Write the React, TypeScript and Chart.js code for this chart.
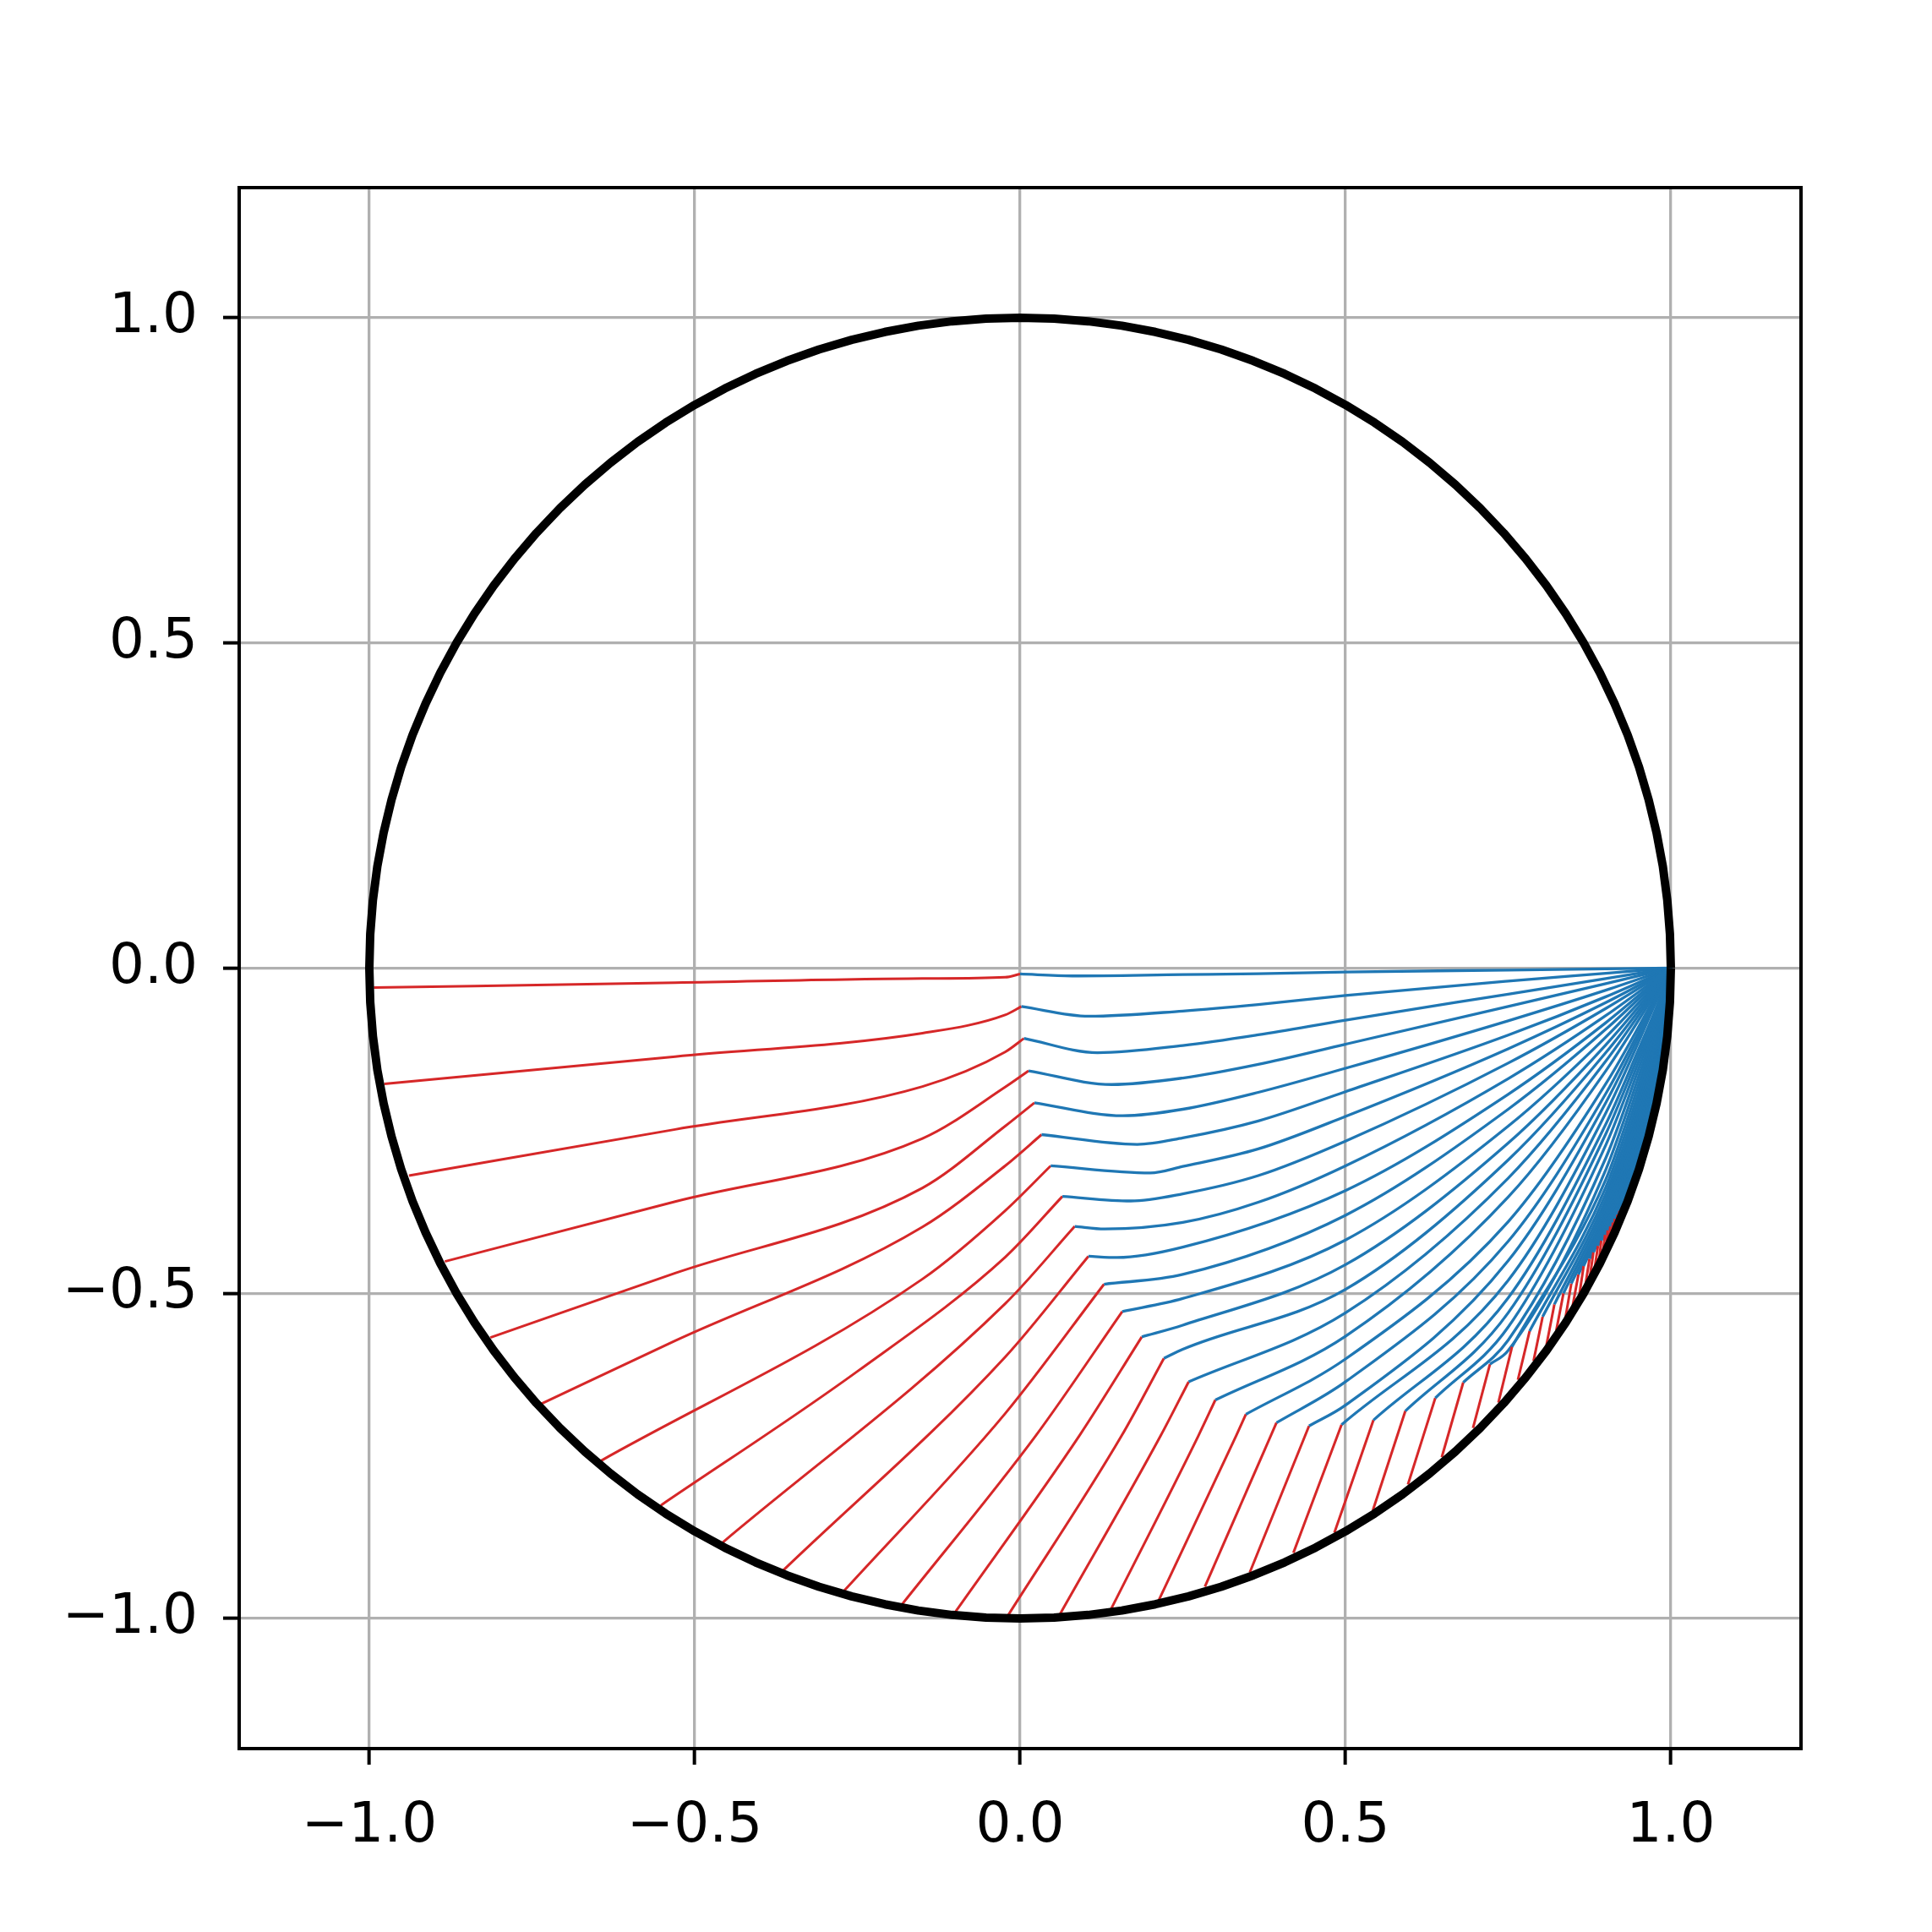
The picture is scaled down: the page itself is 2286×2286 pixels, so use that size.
import React, { useEffect, useRef } from 'react';
import { Chart, registerables } from 'chart.js';

Chart.register(...registerables);

// Axis ticks
const tickValues = [-1, -0.5, 0, 0.5, 1];
const tickLabels = ['\u22121.0', '\u22120.5', '0.0', '0.5', '1.0'];

// Unit circle outline (every 3 degrees)
const circleX = [
  1, 0.9986, 0.9945, 0.9877, 0.9781, 0.9659, 0.9511, 0.9336, 0.9135, 0.891, 0.866, 0.8387, 0.809, 0.7771, 0.7431, 0.7071, 0.6691, 0.6293, 0.5878, 0.5446, 0.5, 0.454, 0.4067, 0.3584, 0.309, 0.2588, 0.2079, 0.1564, 0.1045, 0.0523, 0,
  -0.0523, -0.1045, -0.1564, -0.2079, -0.2588, -0.309, -0.3584, -0.4067, -0.454, -0.5, -0.5446, -0.5878, -0.6293, -0.6691, -0.7071, -0.7431, -0.7771, -0.809, -0.8387, -0.866, -0.891, -0.9135, -0.9336, -0.9511, -0.9659, -0.9781, -0.9877, -0.9945, -0.9986, -1,
  -0.9986, -0.9945, -0.9877, -0.9781, -0.9659, -0.9511, -0.9336, -0.9135, -0.891, -0.866, -0.8387, -0.809, -0.7771, -0.7431, -0.7071, -0.6691, -0.6293, -0.5878, -0.5446, -0.5, -0.454, -0.4067, -0.3584, -0.309, -0.2588, -0.2079, -0.1564, -0.1045, -0.0523, 0,
  0.0523, 0.1045, 0.1564, 0.2079, 0.2588, 0.309, 0.3584, 0.4067, 0.454, 0.5, 0.5446, 0.5878, 0.6293, 0.6691, 0.7071, 0.7431, 0.7771, 0.809, 0.8387, 0.866, 0.891, 0.9135, 0.9336, 0.9511, 0.9659, 0.9781, 0.9877, 0.9945, 0.9986, 1,
];
const circleY = [
  0, 0.0523, 0.1045, 0.1564, 0.2079, 0.2588, 0.309, 0.3584, 0.4067, 0.454, 0.5, 0.5446, 0.5878, 0.6293, 0.6691, 0.7071, 0.7431, 0.7771, 0.809, 0.8387, 0.866, 0.891, 0.9135, 0.9336, 0.9511, 0.9659, 0.9781, 0.9877, 0.9945, 0.9986, 1,
  0.9986, 0.9945, 0.9877, 0.9781, 0.9659, 0.9511, 0.9336, 0.9135, 0.891, 0.866, 0.8387, 0.809, 0.7771, 0.7431, 0.7071, 0.6691, 0.6293, 0.5878, 0.5446, 0.5, 0.454, 0.4067, 0.3584, 0.309, 0.2588, 0.2079, 0.1564, 0.1045, 0.0523, 0,
  -0.0523, -0.1045, -0.1564, -0.2079, -0.2588, -0.309, -0.3584, -0.4067, -0.454, -0.5, -0.5446, -0.5878, -0.6293, -0.6691, -0.7071, -0.7431, -0.7771, -0.809, -0.8387, -0.866, -0.891, -0.9135, -0.9336, -0.9511, -0.9659, -0.9781, -0.9877, -0.9945, -0.9986, -1,
  -0.9986, -0.9945, -0.9877, -0.9781, -0.9659, -0.9511, -0.9336, -0.9135, -0.891, -0.866, -0.8387, -0.809, -0.7771, -0.7431, -0.7071, -0.6691, -0.6293, -0.5878, -0.5446, -0.5, -0.454, -0.4067, -0.3584, -0.309, -0.2588, -0.2079, -0.1564, -0.1045, -0.0523, 0,
];

// Red paths: start on the circle
const startX = [-0.993, -0.977, -0.939, -0.884, -0.814, -0.736, -0.645, -0.552, -0.457, -0.364, -0.271, -0.182, -0.101, -0.019, 0.061, 0.139, 0.213, 0.284, 0.353, 0.42, 0.483, 0.542, 0.596, 0.648, 0.696, 0.735, 0.765, 0.789, 0.809, 0.824, 0.838, 0.849, 0.859, 0.868, 0.875, 0.882, 0.889, 0.894, 0.9, 0.904, 0.908, 0.912, 0.916, 0.919, 0.923, 0.926, 0.929, 0.932];
const startY = [-0.03, -0.178, -0.319, -0.451, -0.568, -0.67, -0.758, -0.826, -0.883, -0.926, -0.958, -0.979, -0.992, -0.996, -0.994, -0.987, -0.972, -0.951, -0.929, -0.899, -0.868, -0.834, -0.794, -0.752, -0.707, -0.668, -0.633, -0.604, -0.579, -0.557, -0.538, -0.52, -0.505, -0.492, -0.479, -0.468, -0.457, -0.447, -0.437, -0.427, -0.418, -0.41, -0.401, -0.393, -0.385, -0.377, -0.37, -0.363];

// Junction where the red path turns into the blue path
const junctionX = [0, 0.002, 0.006, 0.013, 0.022, 0.033, 0.047, 0.065, 0.084, 0.105, 0.129, 0.157, 0.187, 0.221, 0.259, 0.3, 0.347, 0.394, 0.444, 0.494, 0.543, 0.592, 0.638, 0.681, 0.722, 0.756, 0.783, 0.803, 0.821, 0.835, 0.847, 0.858, 0.866, 0.875, 0.881, 0.888, 0.893, 0.899, 0.903, 0.907, 0.911, 0.914, 0.918, 0.921, 0.925, 0.928, 0.93, 0.933];
const junctionY = [-0.009, -0.059, -0.108, -0.158, -0.207, -0.256, -0.304, -0.351, -0.397, -0.443, -0.486, -0.528, -0.567, -0.6, -0.636, -0.664, -0.686, -0.699, -0.704, -0.702, -0.695, -0.681, -0.661, -0.637, -0.609, -0.582, -0.558, -0.536, -0.517, -0.5, -0.485, -0.471, -0.458, -0.447, -0.437, -0.427, -0.419, -0.41, -0.403, -0.397, -0.391, -0.385, -0.379, -0.373, -0.367, -0.361, -0.356, -0.351];

// Extra points along red paths
const redFarX = -0.53;
const redFarY = [-0.0225, -0.136, -0.248, -0.359, -0.469, -0.573];
const redKneeX = [-0.15, -0.15, -0.15, -0.15, -0.15, -0.15, -0.15, -0.25];
const redKneeY = [-0.016, -0.1, -0.182, -0.262, -0.338, -0.398, -0.478, -0.62];
const redNearX = [-0.023, -0.023, -0.023, -0.023, -0.023, -0.023, -0.023, -0.023, -0.023, -0.023, -0.023, 0.024, 0.091, 0.156, 0.216, 0.274, 0.332];
const redNearY = [-0.014, -0.072, -0.129, -0.183, -0.243, -0.304, -0.373, -0.4445, -0.516, -0.598, -0.685, -0.719, -0.719, -0.719, -0.719, -0.719, -0.719];

// Blue paths: dip after the junction, then values at fixed x positions, ending at (1, 0)
const blueDipX = [0.08, 0.106, 0.119, 0.141, 0.158, 0.18, 0.2, 0.17, 0.13, 0.149];
const blueDipY = [-0.012, -0.074, -0.13, -0.179, -0.227, -0.271, -0.315, -0.358, -0.401, -0.445];
const blueSampleX = [0.25, 0.366, 0.5, 0.75, 0.9, 0.95, 0.98];
const blueAt25 = [-0.01, -0.066, -0.119, -0.169, -0.217, -0.261, -0.305, -0.347, -0.391, -0.429, -0.471, -0.508, -0.549, -0.586];
const blueAt37 = [-0.0087, -0.056, -0.1026, -0.148, -0.191, -0.235, -0.278, -0.319, -0.36];
const blueAt50 = [-0.006, -0.042, -0.08, -0.117, -0.154, -0.19, -0.228, -0.266, -0.304, -0.342, -0.38, -0.418, -0.456, -0.494, -0.53, -0.566, -0.601, -0.636, -0.672];
const blueAt75 = [-0.003, -0.02, -0.04, -0.059, -0.081, -0.103, -0.124, -0.146, -0.17, -0.194, -0.217, -0.243, -0.269, -0.295, -0.323, -0.352, -0.39, -0.42, -0.45, -0.48, -0.507, -0.53, -0.552, -0.572, -0.588];
const blueAt90 = [-0.0012, -0.008, -0.016, -0.024, -0.034, -0.044, -0.053, -0.062, -0.073, -0.084, -0.094, -0.106, -0.118, -0.13, -0.143, -0.158, -0.178, -0.193, -0.207, -0.223, -0.24, -0.255, -0.272, -0.292, -0.31, -0.325, -0.337, -0.347, -0.356, -0.364, -0.372, -0.379, -0.385, -0.391, -0.396, -0.401, -0.405];
const blueAt95 = [null, null, null, null, null, null, null, null, null, null, null, null, null, null, null, null, null, null, null, null, -0.126, -0.135, -0.145, -0.156, -0.168, -0.18, -0.192, -0.203, -0.214, -0.224, -0.233, -0.241, -0.249, -0.256, -0.263, -0.269, -0.275, -0.28, -0.285, -0.289, -0.293, -0.296, -0.299, -0.301, -0.303, -0.305, -0.306, -0.307];
const blueAt98 = [null, null, null, null, null, null, null, null, null, null, null, null, null, null, null, null, null, null, null, null, -0.055, -0.059, -0.064, -0.069, -0.074, -0.08, -0.086, -0.092, -0.098, -0.104, -0.11, -0.116, -0.122, -0.128, -0.134, -0.14, -0.145, -0.15, -0.155, -0.159, -0.163, -0.167, -0.17, -0.173, -0.176, -0.179, -0.181, -0.183];
const endX = 1;
const endY = 0;

const RED = '#d62728';
const BLUE = '#1f77b4';

type Pt = { x: number; y: number };

function redPath(k: number): Pt[] {
  const pts: Pt[] = [{ x: startX[k], y: startY[k] }];
  if (redFarY[k] != null && redFarX > startX[k]) pts.push({ x: redFarX, y: redFarY[k] });
  if (redKneeX[k] != null) pts.push({ x: redKneeX[k], y: redKneeY[k] });
  if (redNearX[k] != null) pts.push({ x: redNearX[k], y: redNearY[k] });
  pts.push({ x: junctionX[k], y: junctionY[k] });
  return pts;
}

function bluePath(k: number): Pt[] {
  const jx = junctionX[k];
  const pts: Pt[] = [{ x: jx, y: junctionY[k] }];
  if (blueDipX[k] != null) pts.push({ x: blueDipX[k], y: blueDipY[k] });
  const cols = [blueAt25, blueAt37, blueAt50, blueAt75, blueAt90, blueAt95, blueAt98];
  let last = pts[pts.length - 1].x;
  blueSampleX.forEach((sx, i) => {
    const v = cols[i][k];
    if (v != null && sx > last + 0.004) {
      pts.push({ x: sx, y: v as number });
      last = sx;
    }
  });
  pts.push({ x: endX, y: endY });
  return pts;
}

const framePlugin = {
  id: 'frame',
  afterDraw(chart: any) {
    const { ctx, chartArea } = chart;
    ctx.save();
    ctx.strokeStyle = '#000';
    ctx.lineWidth = 4;
    ctx.strokeRect(chartArea.left, chartArea.top, chartArea.right - chartArea.left, chartArea.bottom - chartArea.top);
    ctx.restore();
  },
};

export default function App() {
  const ref = useRef<HTMLCanvasElement | null>(null);

  useEffect(() => {
    if (!ref.current) return;
    const n = startX.length;
    const datasets: any[] = [];
    const total = 2 * n + 10;
    for (let k = 0; k < n; k++) {
      datasets.push({
        data: redPath(k),
        showLine: true,
        borderColor: RED,
        borderWidth: 3.0,
        pointRadius: 0,
        cubicInterpolationMode: 'monotone',
        order: total - 2 * k,
      });
      datasets.push({
        data: bluePath(k),
        showLine: true,
        borderColor: BLUE,
        borderWidth: 3.3,
        pointRadius: 0,
        cubicInterpolationMode: 'monotone',
        order: total - 2 * k - 1,
      });
    }
    datasets.push({
      data: circleX.map((x, i) => ({ x, y: circleY[i] })),
      showLine: true,
      borderColor: '#000',
      borderWidth: 10,
      borderJoinStyle: 'round',
      pointRadius: 0,
      tension: 0,
      order: -5,
      clip: false,
    });

    const font = { family: 'DejaVu Sans', size: 66 };
    const common = {
      type: 'linear',
      min: -1.2,
      max: 1.2,
      afterBuildTicks: (s: any) => {
        s.ticks = tickValues.map((v) => ({ value: v }));
      },
      grid: {
        color: '#b0b0b0',
        lineWidth: 3.3,
        drawTicks: true,
        tickLength: 19,
        tickColor: '#000',
        tickWidth: 4,
      },
      border: { display: true, color: '#000', width: 4 },
    };

    const chart = new Chart(ref.current, {
      type: 'scatter',
      data: { datasets },
      options: {
        responsive: false,
        animation: false,
        devicePixelRatio: 1,
        layout: { padding: { left: 0, right: 155, top: 222, bottom: 0 } },
        plugins: { legend: { display: false }, tooltip: { enabled: false } },
        elements: { point: { radius: 0 } },
        scales: {
          x: {
            ...common,
            afterFit: (s: any) => {
              s.height = 217;
            },
            ticks: {
              autoSkip: false,
              maxRotation: 0,
              color: '#000',
              font,
              padding: 34,
              callback: (v: any) => tickLabels[tickValues.indexOf(Number(v))],
            },
          },
          y: {
            ...common,
            afterFit: (s: any) => {
              s.width = 283;
            },
            ticks: {
              autoSkip: false,
              color: '#000',
              font,
              padding: 30,
              callback: (v: any) => tickLabels[tickValues.indexOf(Number(v))],
            },
          },
        },
      } as any,
      plugins: [framePlugin],
    });
    return () => chart.destroy();
  }, []);

  return (
    <div style={{ position: 'absolute', left: 0, top: 0, width: 2286, height: 2286, background: '#fff' }}>
      <canvas ref={ref} width={2286} height={2286} style={{ display: 'block', width: 2286, height: 2286 }} />
    </div>
  );
}
